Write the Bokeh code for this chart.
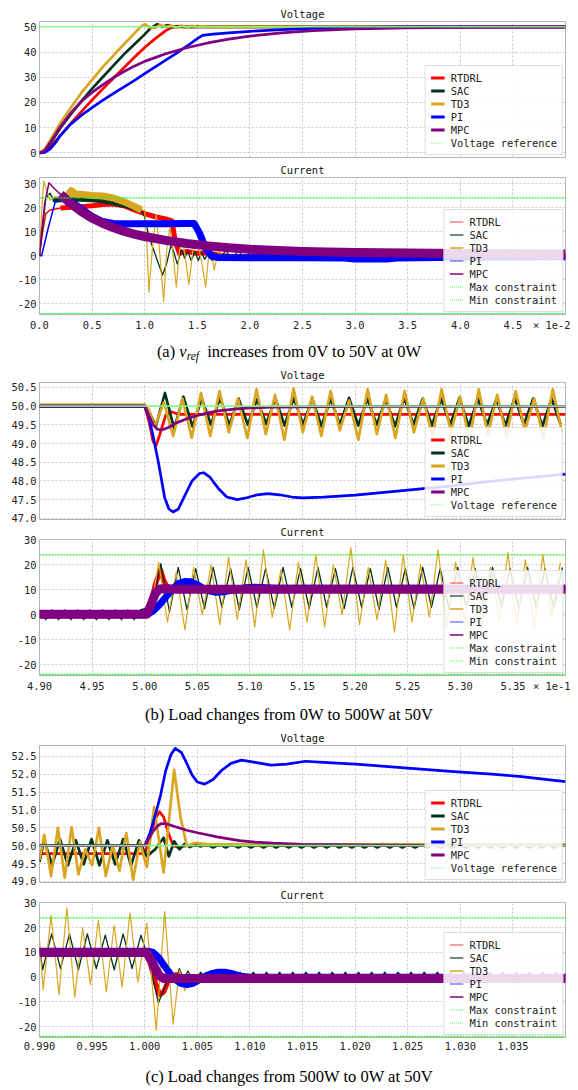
import numpy as np
from bokeh.plotting import figure
from bokeh.models import (Range1d, FixedTicker, NumeralTickFormatter, CustomJSTickFormatter, Legend,
                          LegendItem, Div, Span, LinearAxis)
from bokeh.layouts import column
from bokeh.embed import file_html
from bokeh.resources import INLINE

# ---------------- data ----------------
V_REF = 50.0
I_MAX = 24.0
I_MIN = -24.0

# (a) time in units of 1e-2 s
A_X = [0.0, 5.0]
A_XTICKS = [0.0, 0.5, 1.0, 1.5, 2.0, 2.5, 3.0, 3.5, 4.0, 4.5]
A_VY = [-1.8, 52.1]
A_VTICKS = [0, 10, 20, 30, 40, 50]
A_IY = [-24.4, 32.5]
I_TICKS = [-20, -10, 0, 10, 20, 30]

A_RTDRL_V_t = [0, 0.05, 0.1, 0.2, 0.3, 0.4, 0.5, 0.6, 0.7, 0.8, 0.9, 1.0, 1.1, 1.2, 1.27, 1.35, 5.0]
A_RTDRL_V = [0, 0.5, 2.2, 7.0, 11.8, 16.5, 21.0, 25.3, 29.5, 33.7, 37.8, 41.8, 45.3, 48.5, 50.0, 50.0, 50.0]
A_SAC_V_t = [0, 0.05, 0.1, 0.2, 0.3, 0.4, 0.5, 0.6, 0.7, 0.8, 0.9, 1.0, 1.06, 1.12, 1.17, 1.22, 1.27, 1.32, 1.38, 1.45, 5.0]
A_SAC_V = [0, 0.8, 3.5, 10.0, 15.5, 20.5, 25.5, 30.0, 34.5, 39.0, 43.0, 47.0, 49.6, 51.0, 50.0, 50.7, 49.8, 50.3, 49.9, 50.0, 50.0]
A_TD3_V_t = [0, 0.05, 0.1, 0.2, 0.3, 0.4, 0.5, 0.6, 0.7, 0.8, 0.9, 0.96, 1.0, 1.05, 1.1, 1.15, 1.2, 1.25, 1.3, 1.35, 1.4, 1.45, 1.5, 1.55, 1.6, 5.0]
A_TD3_V = [0, 1.5, 5.0, 12.0, 18.0, 24.0, 29.0, 34.0, 38.5, 43.0, 47.3, 50.0, 51.0, 49.8, 49.6, 50.7, 49.9, 50.5, 49.6, 50.5, 49.7, 50.4, 49.9, 50.2, 50.0, 50.0]
A_PI_V_t = [0, 0.05, 0.1, 0.15, 0.2, 0.3, 0.4, 0.5, 0.6, 0.7, 0.8, 0.9, 1.0, 1.1, 1.2, 1.3, 1.4, 1.5, 1.55, 1.65, 1.8, 2.0, 2.3, 2.6, 3.0, 3.5, 5.0]
A_PI_V = [0, 0.2, 1.5, 4.0, 7.0, 11.5, 15.0, 18.0, 20.8, 23.5, 26.1, 28.7, 31.4, 34.1, 36.8, 39.5, 42.3, 45.3, 46.6, 47.1, 47.6, 48.2, 48.9, 49.4, 49.8, 50.0, 50.0]
A_MPC_V_t = [0, 0.05, 0.1, 0.2, 0.3, 0.4, 0.5, 0.6, 0.7, 0.8, 0.9, 1.0, 1.2, 1.4, 1.6, 1.8, 2.0, 2.3, 2.6, 3.0, 3.5, 4.0, 5.0]
A_MPC_V = [0, 1.0, 4.0, 10.5, 16.0, 20.5, 24.0, 27.0, 29.8, 32.2, 34.4, 36.3, 39.3, 41.7, 43.6, 45.1, 46.3, 47.6, 48.5, 49.2, 49.6, 49.8, 49.9]

A_RTDRL_I_t = [0, 0.03, 0.06, 0.1, 0.2, 0.3, 0.4, 0.5, 0.6, 0.7, 0.8, 0.9, 1.0, 1.1, 1.2, 1.26, 1.29, 1.33, 1.4, 1.5, 1.6, 1.7, 1.8, 5.0]
A_RTDRL_I = [0, 10, 17.5, 19.0, 19.8, 20.1, 20.4, 20.8, 21.3, 21.5, 20.8, 19.0, 17.5, 16.2, 15.3, 14.5, 6.0, 1.0, 1.8, 1.0, 1.2, 0.3, -0.3, -0.3]
A_SAC_I_t = [0, 0.03, 0.06, 0.1, 0.13, 0.16, 0.2, 0.3, 0.4, 0.5, 0.6, 0.7, 0.8, 0.9, 0.97, 1.0, 1.04, 1.08, 1.12, 1.17,
             1.21, 1.25, 1.28, 1.31, 1.35, 1.38, 1.41, 1.44, 1.48, 1.51, 1.54, 1.57, 1.61, 1.64, 1.68, 1.71]
A_SAC_I = [0, 12, 24, 26, 23.5, 23, 23.3, 23.5, 23.5, 23.3, 22.8, 22.0, 21.0, 19.8, 19.0, 16, 8, 3, -2, -8,
           -3, 4.5, 1, -3.5, 2.5, -1, 2, -2, 1.5, -2, 1.5, -1.5, 1.5, -2, 1, -2]
A_SAC_I_TAIL_START, A_SAC_I_TAIL_STEP = 1.77, 0.06
A_SAC_I_TAIL = [2.3, -1.8, 2.3, -1.8, 2.3, -1.8, 2.3, -1.8, 2.3, -1.8,
                2.3, -1.8, 2.3, -1.8, 2.3, -1.8, 2.3, -1.8, 2.3, -1.8,
                2.3, -1.8, 2.3, -1.8, 2.3, -1.8, 2.3, -1.8, 2.3, -1.8,
                2.3, -1.8, 2.3, -1.8, 2.3, -1.8, 2.3, -1.8, 2.3, -1.8,
                2.3, -1.8, 2.3, -1.8, 2.3, -1.8, 2.3, -1.8, 2.3, -1.8,
                2.3, -1.8, 2.3, -1.8]
A_TD3_I_t = [0, 0.02, 0.04, 0.07, 0.1, 0.15, 0.2, 0.25, 0.3, 0.35, 0.4, 0.5, 0.6, 0.7, 0.8, 0.9, 0.97, 1.0, 1.02, 1.04,
             1.075, 1.11, 1.145, 1.18, 1.21, 1.24, 1.27, 1.30, 1.33, 1.36, 1.39, 1.42, 1.46, 1.50, 1.54, 1.58,
             1.62, 1.66, 1.70, 1.75, 1.85, 3.0, 5.0]
A_TD3_I = [0, 18, 31, 27, 23, 24.5, 24.5, 24, 27, 25.5, 25.5, 25, 24.8, 24, 22.5, 20.5, 19, 19, 6, -15,
           4, 17, 0, -19, 3, 12, 0, -13, 2, 7, -2, -12, 3, 6, -2, -13,
           6, -6, 2, -0.5, -0.8, -0.8, -0.5]
A_PI_I_t = [0, 0.02, 0.08, 0.15, 0.2, 0.3, 0.4, 0.5, 0.6, 0.7, 0.8, 1.0, 1.2, 1.4, 1.47, 1.52, 1.58, 1.64, 1.7, 2.0,
            2.5, 2.9, 3.0, 3.3, 3.4, 4.0, 5.0]
A_PI_I = [0, 0, 11, 22.5, 23.5, 22.5, 19.5, 16.3, 14.2, 13.4, 13.3, 13.3, 13.3, 13.4, 13.4, 9.5, 3.0, -0.3, -0.7, -0.8,
          -0.8, -0.9, -1.4, -1.4, -0.9, -0.6, -0.4]
A_MPC_I_t = [0, 0.02, 0.05, 0.09, 0.15, 0.2, 0.3, 0.4, 0.5, 0.6, 0.7, 0.8, 0.9, 1.0, 1.2, 1.4, 1.6, 1.8, 2.0, 2.5,
             3.0, 3.5, 4.0, 4.5, 5.0]
A_MPC_I = [0, 10, 22, 30.3, 27.5, 25.5, 21.5, 18.3, 15.6, 13.5, 11.7, 10.2, 9.0, 8.0, 6.4, 5.1, 4.1, 3.3, 2.7, 1.8,
           1.3, 1.1, 0.9, 0.8, 0.7]

# (b) time in units of 1e-1 s
B_X = [4.90, 5.40]
B_XTICKS = [4.90, 4.95, 5.00, 5.05, 5.10, 5.15, 5.20, 5.25, 5.30, 5.35]
B_VY = [46.97, 50.63]
B_VTICKS = [47.0, 47.5, 48.0, 48.5, 49.0, 49.5, 50.0, 50.5]
B_IY = [-24.4, 30.2]

B_RTDRL_V_t = [4.90, 5.000, 5.004, 5.008, 5.011, 5.015, 5.020, 5.025, 5.030, 5.035, 5.40]
B_RTDRL_V = [50.0, 50.0, 49.6, 49.05, 48.95, 49.3, 49.75, 49.85, 49.8, 49.78, 49.78]
B_SAC_V_HEAD_t = [4.90, 5.000, 5.005]
B_SAC_V_HEAD = [49.99, 49.99, 49.8]
B_SAC_V_OSC_START, B_SAC_V_OSC_STEP = 5.0105, 0.00875
B_SAC_V_OSC = [49.45, 50.35, 49.4, 50.25, 49.45, 50.2, 49.5, 50.22, 49.48, 50.2,
               49.5, 50.18, 49.52, 50.2, 49.48, 50.22, 49.5, 50.2, 49.46, 50.2,
               49.5, 50.22, 49.48, 50.2, 49.5, 50.18, 49.46, 50.22, 49.5, 50.2,
               49.48, 50.2, 49.5, 50.22, 49.46, 50.2, 49.5, 50.18, 49.48, 50.22,
               49.5, 50.2, 49.46, 50.2, 49.5]
B_TD3_V_HEAD_t = [4.90, 5.000, 5.004]
B_TD3_V_HEAD = [50.04, 50.04, 49.9]
B_TD3_V_OSC_START, B_TD3_V_OSC_STEP = 5.0095, 0.0088
B_TD3_V_OSC = [49.45, 50.1, 49.2, 50.2, 49.15, 50.35, 49.2, 50.4, 49.3, 50.2,
               49.15, 50.45, 49.25, 50.3, 49.1, 50.47, 49.3, 50.25, 49.2, 50.4,
               49.35, 50.15, 49.1, 50.45, 49.25, 50.3, 49.15, 50.4, 49.3, 50.2,
               49.2, 50.45, 49.3, 50.25, 49.1, 50.45, 49.25, 50.3, 49.2, 50.4,
               49.35, 50.2, 49.15, 50.45, 49.3]
B_PI_V_t = [4.90, 5.000, 5.004, 5.008, 5.013, 5.019, 5.023, 5.027, 5.032, 5.038, 5.045, 5.052, 5.056, 5.062, 5.070,
            5.078, 5.088, 5.097, 5.107, 5.117, 5.128, 5.14, 5.15, 5.17, 5.20, 5.23, 5.26, 5.29, 5.32, 5.35, 5.38, 5.40]
B_PI_V = [50.0, 50.0, 49.7, 49.2, 48.5, 47.55, 47.25, 47.17, 47.25, 47.6, 48.0, 48.2, 48.22, 48.1, 47.8,
          47.57, 47.5, 47.55, 47.63, 47.66, 47.63, 47.57, 47.55, 47.57, 47.62, 47.7, 47.78, 47.86, 47.96, 48.05, 48.13, 48.18]
B_MPC_V_t = [4.90, 5.000, 5.004, 5.008, 5.012, 5.016, 5.022, 5.030, 5.040, 5.050, 5.060, 5.070, 5.085, 5.10, 5.12,
             5.15, 5.20, 5.40]
B_MPC_V = [50.0, 50.0, 49.75, 49.5, 49.38, 49.36, 49.42, 49.55, 49.66, 49.75, 49.82, 49.87, 49.92, 49.95, 49.97,
           49.98, 49.99, 49.99]

B_RTDRL_I_t = [4.90, 5.000, 5.005, 5.010, 5.015, 5.018, 5.022, 5.026, 5.030, 5.40]
B_RTDRL_I = [0.0, 0.0, 3.0, 12.0, 18.0, 14.0, 10.5, 9.8, 10.0, 10.0]
B_SAC_I_PRE_START, B_SAC_I_PRE_STEP = 4.900, 0.006
B_SAC_I_PRE = [2, -2, 2, -2, 2, -2, 2, -2, 2, -2, 2, -2, 2, -2, 2, -2, 2]
B_SAC_I_POST_START, B_SAC_I_POST_STEP = 5.0070, 0.0083
B_SAC_I_POST = [3, 20.5, 1, 19, 2, 18.5, 2.5, 19, 3, 18.5, 2, 19, 3, 18.5, 2.5, 19,
                3, 18.5, 2.5, 19, 3, 18.5, 2.5, 19, 3, 18.5, 2, 19, 3, 18.5, 2.5, 19,
                3, 18.5, 2.5, 19, 3, 18.5, 2.5, 19, 3, 18.5, 2.5, 19, 3, 18.5, 2.5, 19]
B_TD3_I_HEAD_t = [4.90, 5.000]
B_TD3_I_HEAD = [0.0, 0.0]
B_TD3_I_POST_START, B_TD3_I_POST_STEP = 5.0050, 0.0083
B_TD3_I_POST = [0, 21, -3, 17, -6, 19, 0, 20, -4, 23, -2, 22, -5, 26, -1, 18, -6, 21, -3, 24,
                -5, 20, 0, 27, -4, 19, -2, 22, -7, 24, -3, 20, -1, 26, -5, 21, -3, 23, -6, 19,
                -2, 25, -4, 22, -5, 24, -1, 21]
B_PI_I_t = [4.90, 5.002, 5.008, 5.014, 5.020, 5.026, 5.032, 5.038, 5.044, 5.050, 5.056, 5.062, 5.068, 5.075,
            5.085, 5.095, 5.105, 5.115, 5.125, 5.14, 5.40]
B_PI_I = [0, 0, 1.5, 4, 7, 10, 12.5, 13.3, 13.2, 12, 10.5, 9.5, 9.0, 9.2, 10.0, 10.8, 11.0, 10.8, 10.6, 10.6, 10.6]
B_MPC_I_t = [4.90, 5.002, 5.006, 5.010, 5.014, 5.020, 5.030, 5.40]
B_MPC_I = [0.2, 0.2, 4, 8.5, 10.3, 10.5, 10.2, 10.2]

# (c) time in s
C_X = [0.990, 1.040]
C_XTICKS = [0.990, 0.995, 1.000, 1.005, 1.010, 1.015, 1.020, 1.025, 1.030, 1.035]
C_VY = [48.97, 52.8]
C_VTICKS = [49.0, 49.5, 50.0, 50.5, 51.0, 51.5, 52.0, 52.5]
C_IY = [-24.4, 30.2]

C_RTDRL_V_t = [0.990, 1.0000, 1.0005, 1.0010, 1.0014, 1.0018, 1.0022, 1.0027, 1.0032, 1.0040, 1.040]
C_RTDRL_V = [49.78, 49.78, 50.2, 50.75, 50.95, 50.8, 50.4, 50.0, 49.95, 50.0, 50.0]
C_SAC_V_t = [0.9900, 0.99045, 0.9912, 0.99195, 0.9927, 0.99345, 0.9942, 0.99495, 0.9957, 0.99645, 0.9972, 0.99795,
             0.9987, 0.99945, 1.0002, 1.0010, 1.0018, 1.0023, 1.0028, 1.0033, 1.0038, 1.0043, 1.0048, 1.0053]
C_SAC_V = [49.55, 50.15, 49.45, 50.18, 49.45, 50.15, 49.48, 50.18, 49.45, 50.15, 49.48, 50.18,
           49.45, 50.15, 49.7, 49.9, 50.22, 49.7, 50.12, 49.9, 50.05, 49.96, 50.03, 49.98]
C_SAC_V_TAIL_START, C_SAC_V_TAIL_STEP = 1.0059, 0.0006
C_SAC_V_TAIL = [50.04, 49.95, 50.04, 49.95, 50.04, 49.95, 50.04, 49.95, 50.04, 49.95,
                50.04, 49.95, 50.04, 49.95, 50.04, 49.95, 50.04, 49.95, 50.04, 49.95,
                50.04, 49.95, 50.04, 49.95, 50.04, 49.95, 50.04, 49.95, 50.04, 49.95,
                50.04, 49.95, 50.04, 49.95, 50.04, 49.95, 50.04, 49.95, 50.04, 49.95,
                50.04, 49.95, 50.04, 49.95, 50.04, 49.95, 50.04, 49.95, 50.04, 49.95,
                50.04, 49.95, 50.04, 49.95, 50.04, 49.95, 50.04]
C_TD3_V_t = [0.9900, 0.99045, 0.9911, 0.99175, 0.9924, 0.99305, 0.9937, 0.99435, 0.9950, 0.99565, 0.9963, 0.99695,
             0.9976, 0.99825, 0.9989, 0.99955, 1.0002, 1.0009, 1.0018, 1.0028, 1.0034, 1.0040, 1.0048, 1.0060, 1.040]
C_TD3_V = [49.6, 50.3, 49.15, 50.5, 49.1, 50.52, 49.2, 49.9, 49.45, 50.5, 49.15, 50.0,
           49.3, 50.35, 49.05, 50.1, 49.4, 51.08, 49.25, 52.12, 50.8, 50.0, 50.08, 50.04, 50.04]
C_PI_V_t = [0.990, 1.0000, 1.0005, 1.0010, 1.0015, 1.0020, 1.0025, 1.0029, 1.0035, 1.0040, 1.0045, 1.0050, 1.0057,
            1.0065, 1.0073, 1.0082, 1.0092, 1.0105, 1.0120, 1.0135, 1.0153, 1.0170, 1.0204, 1.025, 1.0294, 1.0330,
            1.0358, 1.040]
C_PI_V = [50.0, 50.0, 50.35, 50.85, 51.4, 52.1, 52.55, 52.72, 52.6, 52.3, 51.98, 51.78, 51.72,
          51.85, 52.1, 52.3, 52.39, 52.33, 52.25, 52.28, 52.36, 52.33, 52.27, 52.17, 52.07, 52.0,
          51.93, 51.79]
C_MPC_V_t = [0.990, 1.0000, 1.0004, 1.0008, 1.0012, 1.0016, 1.0022, 1.003, 1.004, 1.005, 1.0057, 1.007, 1.009,
             1.0105, 1.0122, 1.015, 1.02, 1.03, 1.040]
C_MPC_V = [50.0, 50.0, 50.2, 50.4, 50.55, 50.62, 50.6, 50.52, 50.43, 50.36, 50.32, 50.24, 50.14,
           50.1, 50.07, 50.04, 50.02, 50.0, 50.0]

C_RTDRL_I_t = [0.990, 1.0000, 1.0005, 1.0010, 1.0014, 1.0018, 1.0022, 1.0026, 1.0030, 1.0035, 1.040]
C_RTDRL_I = [10.0, 10.0, 6, -2, -7, -6, -2, 0.5, 1.0, 0.2, 0.0]
C_SAC_I_t = [0.9900, 0.9903, 0.99115, 0.992, 0.99285, 0.9937, 0.99455, 0.9954, 0.99625, 0.9971, 0.99795, 0.9988,
             0.99965, 1.0005, 1.0013, 1.0020, 1.0025, 1.0029, 1.0033, 1.0037, 1.0041]
C_SAC_I = [12, 3, 17.5, 3.5, 17.5, 3, 17.5, 3.5, 17, 3, 17.5, 3.5,
           17, 5, -10.5, -3, 3, -2, 3.5, -1, 2.5]
C_SAC_I_TAIL_START, C_SAC_I_TAIL_STEP = 1.0047, 0.000625
C_SAC_I_TAIL = [-2, 2, -2, 2, -2, 2, -2, 2, -2, 2, -2, 2, -2, 2, -2, 2, -2, 2, -2, 2,
                -2, 2, -2, 2, -2, 2, -2, 2, -2, 2, -2, 2, -2, 2, -2, 2, -2, 2, -2, 2,
                -2, 2, -2, 2, -2, 2, -2, 2, -2, 2, -2, 2, -2, 2, -2, 2, -2]
C_TD3_I_t = [0.9900, 0.99035, 0.9911, 0.99185, 0.9926, 0.99335, 0.9941, 0.99485, 0.9956, 0.99635, 0.9971, 0.99785,
             0.9986, 0.99935, 1.0002, 1.0011, 1.0019, 1.0027, 1.0033, 1.0038, 1.0044, 1.040]
C_TD3_I = [15, -5, 25, -7, 28, -8, 20, -3, 23, -6, 21, -4,
           26, -2, 22, -21.5, 26.5, -19, 3, -5.5, 0, 0]
C_PI_I_t = [0.990, 1.0003, 1.0008, 1.0013, 1.0018, 1.0023, 1.0028, 1.0034, 1.0040, 1.0046, 1.0052, 1.0058, 1.0064,
            1.0070, 1.0076, 1.0082, 1.0090, 1.0100, 1.040]
C_PI_I = [10.5, 10.5, 10, 8, 5, 2, -0.5, -2.5, -3, -2.5, -1, 0.5, 1.5, 2, 2, 1.5, 0.5, 0, 0]
C_MPC_I_t = [0.990, 1.0002, 1.0006, 1.0010, 1.0014, 1.0018, 1.0024, 1.040]
C_MPC_I = [10.0, 10.0, 7, 3.5, 0.5, -0.5, -0.5, -0.5]

# ---------------- style ----------------
MONO = "DejaVu Sans Mono"
FS = "10.4px"
C_RED = "#ff0000"
C_SAC = "#013220"
C_TD3 = "#daa520"
C_PI = "#0000ff"
C_MPC = "#800080"
C_REF = "#7dfc7d"
C_CON = "#2cf02c"
TITLE_BAND = 17
PANEL_OVERLAP = 4
# where the offset text ("× 1e-n") sits on the x tick row, in data units
A_OFFSET_POS = 4.883
B_OFFSET_POS = 5.388


def sampled(start, step, values):
    return [round(start + step * k, 7) for k in range(len(values))]


def make_fig(title, xr, yr, xticks, yticks, xdigits, yfmt, height, bottom, left, show_x,
             offset_text=None, offset_pos=None, top_margin=0):
    p = figure(width=562, height=height, x_range=Range1d(*xr), y_range=Range1d(*yr),
               output_backend="svg", toolbar_location=None,
               min_border_top=TITLE_BAND, min_border_bottom=bottom, min_border_left=left, min_border_right=5,
               background_fill_color="white", border_fill_color="white", border_fill_alpha=0.0,
               margin=(top_margin, 0, 0, 0))
    axis_ticks = list(xticks) + ([offset_pos] if offset_text else [])
    p.xaxis.ticker = FixedTicker(ticks=axis_ticks)
    p.xgrid.ticker = FixedTicker(ticks=xticks)
    p.yaxis.ticker = FixedTicker(ticks=yticks)
    p.ygrid.ticker = FixedTicker(ticks=yticks)
    p.xaxis.formatter = CustomJSTickFormatter(
        args=dict(special=(offset_pos if offset_text else -1e9), text=(offset_text or ""), digits=xdigits),
        code="if (Math.abs(tick - special) < 1e-9) { return text; } return tick.toFixed(digits);")
    p.yaxis.formatter = NumeralTickFormatter(format=yfmt)
    for ax in p.axis:
        ax.axis_line_color = None
        ax.major_tick_line_color = None
        ax.minor_tick_line_color = None
        ax.major_tick_out = 0
        ax.major_tick_in = 0
        ax.minor_tick_out = 0
        ax.major_label_text_font = MONO
        ax.major_label_text_font_size = FS
        ax.major_label_text_color = "#222222"
        ax.major_label_standoff = 4
    p.yaxis.major_label_standoff = 3
    p.xaxis.visible = show_x
    for g in p.grid:
        g.grid_line_color = "#c8c8c8"
        g.grid_line_dash = "2 2"
        g.grid_line_width = 1
    p.outline_line_color = "#b4b4b4"
    p.outline_line_width = 1
    # panel title, centred over the frame
    tax = LinearAxis(ticker=FixedTicker(ticks=[]), axis_label=title, axis_label_standoff=2,
                     axis_label_text_font=MONO, axis_label_text_font_size=FS,
                     axis_label_text_font_style="normal", axis_label_text_color="#111111",
                     axis_label_text_line_height=1.0,
                     axis_line_color=None, major_tick_line_color=None, minor_tick_line_color=None,
                     major_tick_out=0, major_tick_in=0, minor_tick_out=0, major_label_standoff=0,
                     major_label_text_font_size="0px")
    p.add_layout(tax, "above")
    return p


def add_legend(p, specs):
    items = []
    for label, color, width, dash, alpha in specs:
        r = p.line(x=[np.nan], y=[np.nan], line_color=color, line_width=width, line_dash=dash, line_alpha=alpha)
        items.append(LegendItem(label=label, renderers=[r]))
    leg = Legend(items=items, location="bottom_right", label_text_font=MONO, label_text_font_size=FS,
                 label_text_color="#222222", label_height=13, glyph_height=13, glyph_width=14,
                 label_standoff=6, padding=5, spacing=0, margin=2,
                 border_line_color="#bdbdbd", border_line_width=1, background_fill_alpha=0.85)
    p.add_layout(leg)


V_LEG = [("RTDRL", C_RED, 3, "solid", 1), ("SAC", C_SAC, 3, "solid", 1), ("TD3", C_TD3, 3, "solid", 1),
         ("PI", C_PI, 3, "solid", 1), ("MPC", C_MPC, 3, "solid", 1),
         ("Voltage reference", "#90ee90", 2, "1 1", 0.6)]
I_LEG = [("RTDRL", C_RED, 1.5, "solid", 0.5), ("SAC", C_SAC, 1.5, "solid", 0.75), ("TD3", C_TD3, 1.5, "solid", 1),
         ("PI", C_PI, 1.5, "solid", 0.5), ("MPC", C_MPC, 1.5, "solid", 1),
         ("Max constraint", "#22ee22", 1.5, "1 1", 0.55), ("Min constraint", "#22ee22", 1.5, "1 1", 0.55)]


def window(t, v, lo, hi):
    pts = [(a, b) for a, b in zip(t, v) if lo <= a <= hi]
    return [a for a, _ in pts], [b for _, b in pts]


def draw_voltage(p, series):
    colors = [C_RED, C_SAC, C_TD3, C_PI, C_MPC]
    for (t, v), c in zip(series, colors):
        p.line(t, v, line_color=c, line_width=2.7, line_join="round")
    p.add_layout(Span(location=V_REF, dimension="width", line_color=C_REF, line_width=1.6, line_alpha=0.9))
    add_legend(p, V_LEG)


def draw_current(p, series, thick_from=None, extra=None):
    """thick_from: start time of the wide ripple band for RTDRL/PI/MPC (None = band everywhere)."""
    (tr, ir), (ts, isac), (tt, itd), (tp, ip), (tm, im) = series
    extra = extra or {}

    def band(t, v, color, width, key):
        if thick_from is None:
            p.line(t, v, line_color=color, line_width=width, line_join="round")
        else:
            p.line(t, v, line_color=color, line_width=1.5, line_join="round")
            bt, bv = window(t, v, thick_from[key], 1e9)
            p.line(bt, bv, line_color=color, line_width=width, line_join="round")

    band(tr, ir, C_RED, 5, "RTDRL")
    p.line(ts, isac, line_color=C_SAC, line_width=1.3, line_join="round")
    if "SAC" in extra:
        (bt, bv), w = extra["SAC"]
        p.line(bt, bv, line_color=C_SAC, line_width=w, line_join="round")
    p.line(tt, itd, line_color=C_TD3, line_width=1.2, line_join="round")
    if "TD3" in extra:
        (bt, bv), w = extra["TD3"]
        p.line(bt, bv, line_color=C_TD3, line_width=w, line_join="round")
    band(tp, ip, C_PI, 7, "PI")
    band(tm, im, C_MPC, 9, "MPC")
    for loc in (I_MAX, I_MIN):
        p.add_layout(Span(location=loc, dimension="width", line_color=C_CON, line_width=1.3, line_dash="2 1"))
    add_legend(p, I_LEG)


def caption(html, height, lh):
    return Div(text=('<div style="width:562px;text-align:center;font-family:\'Liberation Serif\',serif;'
                     'font-size:16.5px;line-height:%dpx;color:#000;white-space:nowrap">%s</div>') % (lh, html),
               width=562, height=height, margin=(0, 0, 0, 0))


# ---------------- (a) ----------------
fa_v = make_fig("Voltage", A_X, A_VY, A_XTICKS, A_VTICKS, 1, "0", 160, 7, 23, False)
draw_voltage(fa_v, [(A_RTDRL_V_t, A_RTDRL_V), (A_SAC_V_t, A_SAC_V), (A_TD3_V_t, A_TD3_V),
                    (A_PI_V_t, A_PI_V), (A_MPC_V_t, A_MPC_V)])

fa_i = make_fig("Current", A_X, A_IY, A_XTICKS, I_TICKS, 1, "0", 177, 23, 23, True,
                offset_text="× 1e-2", offset_pos=A_OFFSET_POS, top_margin=-PANEL_OVERLAP)
a_sac_t = A_SAC_I_t + sampled(A_SAC_I_TAIL_START, A_SAC_I_TAIL_STEP, A_SAC_I_TAIL)
a_sac_v = A_SAC_I + A_SAC_I_TAIL
draw_current(fa_i, [(A_RTDRL_I_t, A_RTDRL_I), (a_sac_t, a_sac_v), (A_TD3_I_t, A_TD3_I),
                    (A_PI_I_t, A_PI_I), (A_MPC_I_t, A_MPC_I)],
             thick_from={"RTDRL": 0.12, "PI": 0.22, "MPC": 0.17},
             extra={"SAC": (window(A_SAC_I_t, A_SAC_I, 0.13, 0.97), 5),
                    "TD3": (window(A_TD3_I_t, A_TD3_I, 0.2, 0.97), 7)})

cap_a = caption('(a) <i>v</i><sub style="font-size:11.5px;font-style:italic;vertical-align:-3px;line-height:0">ref</sub>'
                '&nbsp; increases from 0V to 50V at 0W', 28, 30)

# ---------------- (b) ----------------
fb_v = make_fig("Voltage", B_X, B_VY, B_XTICKS, B_VTICKS, 2, "0.0", 161, 7, 29, False)
b_sac_vt = B_SAC_V_HEAD_t + sampled(B_SAC_V_OSC_START, B_SAC_V_OSC_STEP, B_SAC_V_OSC)
b_sac_v = B_SAC_V_HEAD + B_SAC_V_OSC
b_td3_vt = B_TD3_V_HEAD_t + sampled(B_TD3_V_OSC_START, B_TD3_V_OSC_STEP, B_TD3_V_OSC)
b_td3_v = B_TD3_V_HEAD + B_TD3_V_OSC
draw_voltage(fb_v, [(B_RTDRL_V_t, B_RTDRL_V), (b_sac_vt, b_sac_v), (b_td3_vt, b_td3_v),
                    (B_PI_V_t, B_PI_V), (B_MPC_V_t, B_MPC_V)])

fb_i = make_fig("Current", B_X, B_IY, B_XTICKS, I_TICKS, 2, "0", 176, 23, 29, True,
                offset_text="× 1e-1", offset_pos=B_OFFSET_POS, top_margin=-PANEL_OVERLAP)
b_sac_it = sampled(B_SAC_I_PRE_START, B_SAC_I_PRE_STEP, B_SAC_I_PRE) + \
    sampled(B_SAC_I_POST_START, B_SAC_I_POST_STEP, B_SAC_I_POST)
b_sac_i = B_SAC_I_PRE + B_SAC_I_POST
b_td3_it = B_TD3_I_HEAD_t + sampled(B_TD3_I_POST_START, B_TD3_I_POST_STEP, B_TD3_I_POST)
b_td3_i = B_TD3_I_HEAD + B_TD3_I_POST
draw_current(fb_i, [(B_RTDRL_I_t, B_RTDRL_I), (b_sac_it, b_sac_i), (b_td3_it, b_td3_i),
                    (B_PI_I_t, B_PI_I), (B_MPC_I_t, B_MPC_I)])

cap_b = caption('(b) Load changes from 0W to 500W at 50V', 30, 34)

# ---------------- (c) ----------------
fc_v = make_fig("Voltage", C_X, C_VY, C_XTICKS, C_VTICKS, 3, "0.0", 161, 7, 29, False)
c_sac_vt = C_SAC_V_t + sampled(C_SAC_V_TAIL_START, C_SAC_V_TAIL_STEP, C_SAC_V_TAIL)
c_sac_v = C_SAC_V + C_SAC_V_TAIL
draw_voltage(fc_v, [(C_RTDRL_V_t, C_RTDRL_V), (c_sac_vt, c_sac_v), (C_TD3_V_t, C_TD3_V),
                    (C_PI_V_t, C_PI_V), (C_MPC_V_t, C_MPC_V)])

fc_i = make_fig("Current", C_X, C_IY, C_XTICKS, I_TICKS, 3, "0", 175, 23, 29, True,
                top_margin=-PANEL_OVERLAP)
c_sac_it = C_SAC_I_t + sampled(C_SAC_I_TAIL_START, C_SAC_I_TAIL_STEP, C_SAC_I_TAIL)
c_sac_i = C_SAC_I + C_SAC_I_TAIL
draw_current(fc_i, [(C_RTDRL_I_t, C_RTDRL_I), (c_sac_it, c_sac_i), (C_TD3_I_t, C_TD3_I),
                    (C_PI_I_t, C_PI_I), (C_MPC_I_t, C_MPC_I)])

cap_c = caption('(c) Load changes from 500W to 0W at 50V', 22, 34)

layout = column(fa_v, fa_i, cap_a, fb_v, fb_i, cap_b, fc_v, fc_i, cap_c, spacing=0, margin=(4, 8, 8, 8))

open("out.html", "w").write(file_html(layout, INLINE))
